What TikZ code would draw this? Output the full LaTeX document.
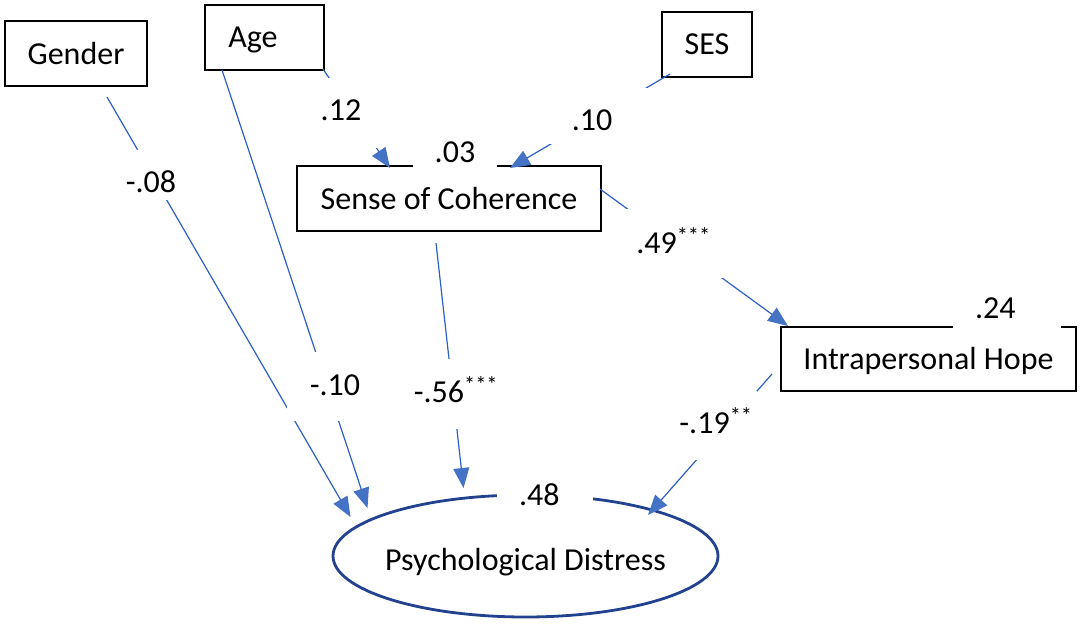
\documentclass[tikz,border=0pt]{standalone}
\usepackage{fontspec}
\setmainfont{Carlito}
\usetikzlibrary{arrows.meta,calc,shapes.geometric}
\definecolor{lineblue}{HTML}{2B5FC8}
\definecolor{tipblue}{HTML}{4472C4}
\definecolor{ellblue}{HTML}{22418F}
\begin{document}
\begin{tikzpicture}[x=1pt,y=-1pt,
  every node/.style={font=\fontsize{32}{38}\selectfont, inner sep=0pt, outer sep=0pt},
  varbox/.style={draw=black, line width=1.8pt, rectangle, minimum height=65pt, text height=21pt, text depth=0pt},
  latent/.style={draw=ellblue, line width=2.8pt, ellipse, minimum width=385pt, minimum height=122pt, text height=21pt, text depth=0pt},
  conn/.style={draw=lineblue, line width=1.2pt, -{Triangle[length=20pt,width=16pt,color=tipblue]}},
  coef/.style={fill=white, anchor=base},
]
\useasboundingbox (0,0) rectangle (1084,626);

% variables
\node[varbox, minimum width=142pt] (gender) at (76,53.5) {Gender};
\node[varbox, minimum width=119pt] (age) at (264.5,37.5) {Age\hspace*{23pt}};
\node[varbox, minimum width=90pt] (ses) at (707,44.5) {SES};
\node[varbox, minimum width=304pt] (soc) at (449,198.5) {Sense of Coherence};
\node[varbox, minimum width=295pt, minimum height=64pt] (hope) at (928.5,359) {Intrapersonal Hope};
\node[latent] (pd) at (525.5,556) {\makebox[0pt]{\raisebox{-4pt}{Psychological Distress}}};

% explained variances
\node[coef, text height=30pt, text depth=8pt, minimum width=84pt] (r2soc) at (455,162) {.03};
\node[coef, text height=30pt, text depth=12pt] (r2hope) at (1007,318) {\makebox[108pt][l]{\hspace*{22pt}.24}};
\node[coef, text height=30pt, text depth=7pt] (r2pd) at (545,505) {\makebox[96pt][l]{\hspace*{22pt}.48}};

% paths
\draw[conn] ($(gender.south)+(31,11)$) -- ($(pd.center)+(-175,-39)$);
\node[coef, text height=42pt, text depth=8pt, minimum width=50pt] (cg) at (151,192) {-.08};

\draw[conn] ($(age.south)+(-42.5,0)$) -- ($(pd.center)+(-158,-48)$);
\node[coef, text height=43pt, text depth=26pt, minimum width=96pt] (ca) at (335,395) {-.10};

\draw[conn] ($(age.south east)+(-1,-1)$) -- ($(soc.north)+(-59,2)$);
\node[coef, text height=42pt, text depth=28pt, minimum width=72pt] (cas) at (341,120) {.12};

\draw[conn] ($(ses.south west)+(8,-3)$) -- ($(soc.north)+(61,2)$);
\node[coef, text height=42pt, text depth=14pt, minimum width=110pt] (cs) at (592,130) {.10};

\draw[conn] ($(soc.east)+(-1,-9.5)$) -- ($(hope.north west)+(7,-1)$);
\node[coef, text height=44pt, text depth=25pt, minimum width=104pt] (csh) at (673.5,253) {.49\textsuperscript{***}};

\draw[conn] ($(soc.south)+(-13,12)$) -- ($(pd.center)+(-62,-68)$);
\node[coef, text height=43pt, text depth=27pt, minimum width=92pt] (csp) at (456,402) {-.56\textsuperscript{***}};

\draw[conn] ($(hope.west)+(-9,15)$) -- ($(pd.center)+(122.5,-41)$);
\node[coef, text height=42pt, text depth=27pt, minimum width=82pt] (chp) at (716,433) {-.19\textsuperscript{**}};
\end{tikzpicture}
\end{document}
